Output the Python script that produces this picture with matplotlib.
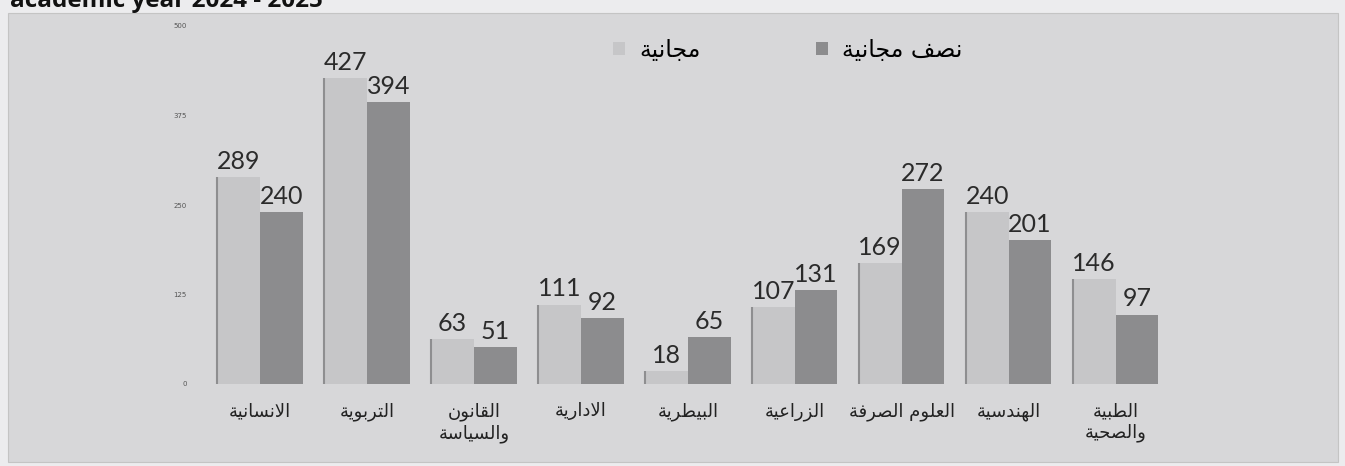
import numpy as np
import matplotlib.pyplot as plt
from matplotlib.patches import Rectangle, Patch

# colleges, left to right as drawn
colleges = ['الانسانية', 'التربوية', 'القانون\nوالسياسة', 'الادارية', 'البيطرية',
            'الزراعية', 'العلوم الصرفة', 'الهندسية', 'الطبية\nوالصحية']
free = [289, 427, 63, 111, 18, 107, 169, 240, 146]       # مجانية
semi_free = [240, 394, 51, 92, 65, 131, 272, 201, 97]     # نصف مجانية
series_names = ['مجانية', 'نصف مجانية']
yticks = [0, 125, 250, 375, 500]

# matplotlib has no arabic shaping, so pick presentation forms by hand
# (isolated, final, initial, medial)
FORMS = {
    'ا': (0xFE8D, 0xFE8E, None, None),
    'ب': (0xFE8F, 0xFE90, 0xFE91, 0xFE92),
    'ة': (0xFE93, 0xFE94, None, None),
    'ت': (0xFE95, 0xFE96, 0xFE97, 0xFE98),
    'ج': (0xFE9D, 0xFE9E, 0xFE9F, 0xFEA0),
    'ح': (0xFEA1, 0xFEA2, 0xFEA3, 0xFEA4),
    'د': (0xFEA9, 0xFEAA, None, None),
    'ر': (0xFEAD, 0xFEAE, None, None),
    'ز': (0xFEAF, 0xFEB0, None, None),
    'س': (0xFEB1, 0xFEB2, 0xFEB3, 0xFEB4),
    'ص': (0xFEB9, 0xFEBA, 0xFEBB, 0xFEBC),
    'ط': (0xFEC1, 0xFEC2, 0xFEC3, 0xFEC4),
    'ع': (0xFEC9, 0xFECA, 0xFECB, 0xFECC),
    'ف': (0xFED1, 0xFED2, 0xFED3, 0xFED4),
    'ق': (0xFED5, 0xFED6, 0xFED7, 0xFED8),
    'ل': (0xFEDD, 0xFEDE, 0xFEDF, 0xFEE0),
    'م': (0xFEE1, 0xFEE2, 0xFEE3, 0xFEE4),
    'ن': (0xFEE5, 0xFEE6, 0xFEE7, 0xFEE8),
    'ه': (0xFEE9, 0xFEEA, 0xFEEB, 0xFEEC),
    'و': (0xFEED, 0xFEEE, None, None),
    'ي': (0xFEF1, 0xFEF2, 0xFEF3, 0xFEF4),
}


def joins_next(c):
    return c in FORMS and FORMS[c][2] is not None


def shape_line(s):
    res = []
    i = 0
    while i < len(s):
        c = s[i]
        if c not in FORMS:
            res.append(c)
            i += 1
            continue
        con_prev = i > 0 and joins_next(s[i - 1])
        if c == 'ل' and i + 1 < len(s) and s[i + 1] == 'ا':   # lam-alef
            res.append(chr(0xFEFC if con_prev else 0xFEFB))
            i += 2
            continue
        con_next = joins_next(c) and i + 1 < len(s) and s[i + 1] in FORMS
        iso, fin, ini, med = FORMS[c]
        if con_prev and con_next:
            g = med
        elif con_prev:
            g = fin
        elif con_next:
            g = ini
        else:
            g = iso
        res.append(chr(g))
        i += 1
    return ''.join(reversed(res))


def ar(s):
    return '\n'.join(shape_line(line) for line in s.split('\n'))


W, H = 1345, 466
fig = plt.figure(figsize=(W / 100, H / 100), dpi=100, facecolor='#ececee')

# grey scanned panel, kept behind the axes
fig.patches.append(Rectangle((8 / W, 4 / H), 1330 / W, 449 / H, transform=fig.transFigure,
                             facecolor='#d7d7d9', edgecolor='#c4c4c4', lw=0.8, zorder=-5))

# title is cropped at the top edge in the scan
fig.text(10 / W, 1 - 7 / H, 'academic year 2024 - 2025', fontsize=17.5, fontweight='bold',
         family='Open Sans', color='#111111', va='baseline', ha='left')

ax = fig.add_axes([195 / W, (H - 384) / H, (1200 - 195) / W, 358 / H])
ax.patch.set_alpha(0)

x = np.arange(len(colleges))
bw = 0.4
light = '#c6c6c8'
dark = '#8c8c8e'
b1 = ax.bar(x - bw / 2, free, bw, color=light, edgecolor='none')
b2 = ax.bar(x + bw / 2, semi_free, bw, color=dark, edgecolor='none')
# darker left edge on the light bars (3d look of the original)
ax.vlines(x - bw, 0, free, color='#8e8e90', lw=1.5)

for bars, vals in ((b1, free), (b2, semi_free)):
    for r, v in zip(bars, vals):
        ax.annotate(str(v), (r.get_x() + r.get_width() / 2, v), xytext=(0, 3),
                    textcoords='offset points', ha='center', va='bottom',
                    fontsize=18, family='Lato', color='#2b2b2b')

ax.set_xlim(-0.608, 8.79)
ax.set_ylim(0, 500)
ax.set_yticks(yticks)
ax.set_yticklabels([str(t) for t in yticks], fontsize=5, color='#555555')
ax.set_xticks(x)
ax.set_xticklabels([ar(c) for c in colleges], fontsize=13, family='DejaVu Sans',
                   color='#222222', linespacing=1.25)
ax.tick_params(axis='both', length=0)
ax.tick_params(axis='x', pad=13)
ax.tick_params(axis='y', pad=6)
for s in ax.spines.values():
    s.set_visible(False)

handles = [Patch(facecolor=light, edgecolor='none'), Patch(facecolor=dark, edgecolor='none')]
ax.legend(handles, [ar(n) for n in series_names], ncol=2, loc='center',
          bbox_to_anchor=(0.59, 0.933), frameon=False, handlelength=0.5,
          handleheight=0.5, handletextpad=0.6, columnspacing=4.9,
          prop={'family': 'DejaVu Sans', 'size': 17})

fig.savefig('out.png', dpi=100, facecolor=fig.get_facecolor())
